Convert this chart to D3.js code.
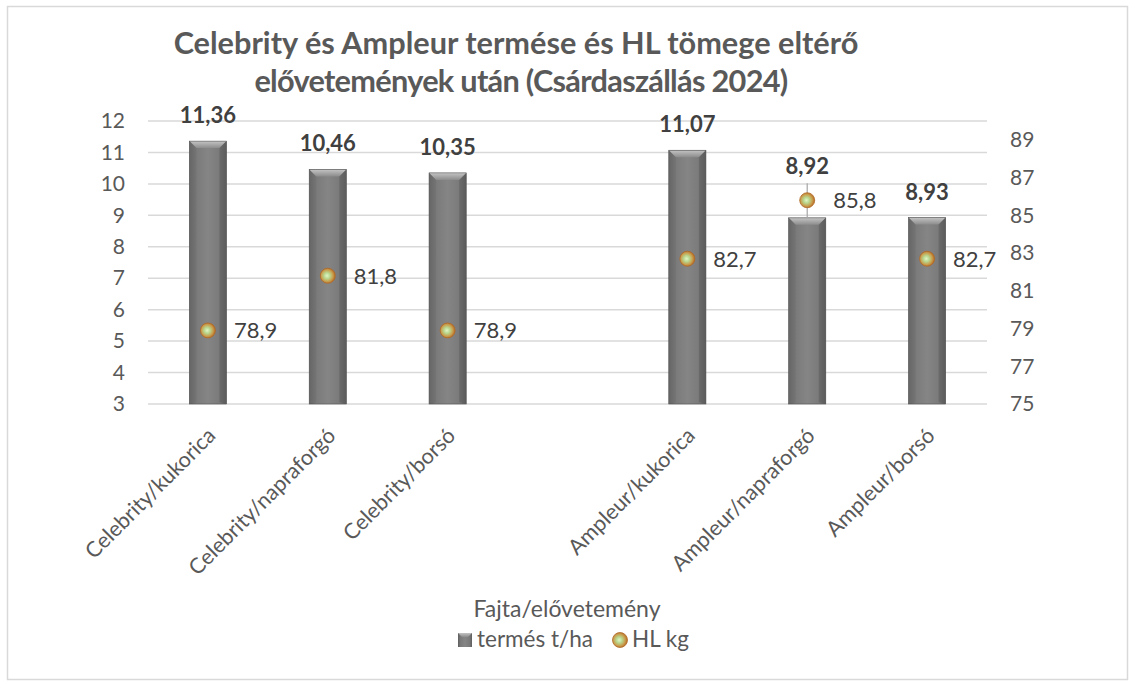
<!DOCTYPE html>
<html><head><meta charset="utf-8">
<script src="https://cdn.jsdelivr.net/npm/d3@7/dist/d3.min.js"></script>
<style>body{margin:0;background:#fff}svg{display:block;font-family:Lato,"Open Sans",sans-serif}</style>
</head><body><svg id="c" width="1137" height="692"></svg>
<script>
const categories = ["Celebrity/kukorica","Celebrity/napraforgó","Celebrity/borsó","","Ampleur/kukorica","Ampleur/napraforgó","Ampleur/borsó"];
const yieldValues = [11.36, 10.46, 10.35, null, 11.07, 8.92, 8.93];
const hlValues = [78.9, 81.8, 78.9, null, 82.7, 85.8, 82.7];
const leftTicks = [3,4,5,6,7,8,9,10,11,12];
const rightTicks = [75,77,79,81,83,85,87,89];
const titleLines = ["Celebrity és Ampleur termése és HL tömege eltérő","elővetemények után (Csárdaszállás 2024)"];
const xTitle = "Fajta/elővetemény";
const seriesNames = ["termés t/ha","HL kg"];
const fmt = v => v.toFixed(2).replace(".", ",");
const fmt1 = v => v.toFixed(1).replace(".", ",");

const svg = d3.select("#c");
const defs = svg.append("defs");
const m={left:148,right:987,top:121,bottom:404};

const gH = defs.append("linearGradient").attr("id","barH").attr("x1","0").attr("x2","1").attr("y1","0").attr("y2","0");
[[0,"#5e5e5e"],[0.18,"#7a7a7a"],[0.5,"#858585"],[0.82,"#7a7a7a"],[1,"#5e5e5e"]].forEach(([o,c])=>gH.append("stop").attr("offset",o).attr("stop-color",c));
const gT = defs.append("linearGradient").attr("id","barT").attr("x1","0").attr("x2","0").attr("y1","0").attr("y2","1");
[[0,"#c4c4c4"],[1,"#8c8c8c"]].forEach(([o,c])=>gT.append("stop").attr("offset",o).attr("stop-color",c));
const gM = defs.append("radialGradient").attr("id","mk").attr("cx","0.45").attr("cy","0.5").attr("r","0.55");
[[0,"#e4f4c4"],[0.35,"#b8d890"],[0.7,"#c8a050"],[1,"#b86a20"]].forEach(([o,c])=>gM.append("stop").attr("offset",o).attr("stop-color",c));

svg.append("rect").attr("x",7.5).attr("y",6.5).attr("width",1120).attr("height",673).attr("fill","#fff").attr("stroke","#d9d9d9").attr("stroke-width",1.5);

const x = d3.scaleBand().domain(categories.map((c,i)=>i)).range([m.left,m.right]).paddingInner(0.69).paddingOuter(0.345);
const y = d3.scaleLinear().domain([3,12]).range([m.bottom,m.top]);
const y2 = d3.scaleLinear().domain([75,90]).range([m.bottom,m.top]);

svg.append("g").selectAll("line").data(leftTicks).join("line")
  .attr("x1",m.left).attr("x2",m.right).attr("y1",d=>y(d)).attr("y2",d=>y(d))
  .attr("stroke","#d9d9d9").attr("stroke-width",1.5);

const la = svg.append("g").attr("transform",`translate(${m.left},0)`)
  .call(d3.axisLeft(y).tickValues(leftTicks).tickSize(0).tickPadding(23).tickFormat(d=>d));
la.select(".domain").remove();
la.selectAll("text").attr("font-size",21).attr("fill","#595959").attr("font-family","Lato");
const ra = svg.append("g").attr("transform",`translate(${m.right},0)`)
  .call(d3.axisRight(y2).tickValues(rightTicks).tickSize(0).tickPadding(23).tickFormat(d=>d));
ra.select(".domain").remove();
ra.selectAll("text").attr("font-size",21).attr("fill","#595959").attr("font-family","Lato");

svg.append("g").selectAll("text").data(categories.map((c,i)=>({c,i})).filter(d=>d.c)).join("text")
  .attr("transform",d=>`translate(${x(d.i)+x.bandwidth()/2+9},${m.bottom+33}) rotate(-45)`)
  .attr("text-anchor","end").attr("font-size",21.5).attr("fill","#595959").text(d=>d.c);

const bw = x.bandwidth();
const data = categories.map((c,i)=>({i,v:yieldValues[i],h:hlValues[i]})).filter(d=>d.v!=null);
const bars = svg.append("g");
data.forEach(d=>{
  const x0=x(d.i), top=y(d.v), bot=y(3);
  const g=bars.append("g");
  g.append("rect").attr("x",x0).attr("y",top).attr("width",bw).attr("height",bot-top).attr("fill","url(#barH)");
  const b=7;
  g.append("path").attr("d",`M${x0},${top}L${x0+bw},${top}L${x0+bw-b},${top+b}L${x0+b},${top+b}Z`).attr("fill","url(#barT)");
  g.append("path").attr("d",`M${x0},${top}L${x0+b},${top+b}L${x0+b},${bot-2}L${x0},${bot}Z`).attr("fill","#6e6e6e").attr("opacity",0.5);
  g.append("path").attr("d",`M${x0+bw},${top}L${x0+bw-b},${top+b}L${x0+bw-b},${bot-2}L${x0+bw},${bot}Z`).attr("fill","#5a5a5a").attr("opacity",0.5);
  g.append("rect").attr("x",x0).attr("y",top).attr("width",bw).attr("height",bot-top).attr("fill","none").attr("stroke","#555").attr("stroke-width",0.6);
});

data.forEach(d=>{
  const cx=x(d.i)+bw/2, top=y(d.v), my=y2(d.h);
  let base=top-18;
  if (Math.abs((base-7)-my)<20){
    base = my-26;
    svg.append("line").attr("x1",cx).attr("x2",cx).attr("y1",base+9).attr("y2",top).attr("stroke","#a6a6a6").attr("stroke-width",1.2);
  }
  svg.append("text").attr("x",cx).attr("y",base).attr("text-anchor","middle").attr("font-size",22).attr("font-weight","bold").attr("fill","#404040").text(fmt(d.v));
});

data.forEach(d=>{
  const cx=x(d.i)+bw/2, my=y2(d.h);
  svg.append("circle").attr("cx",cx).attr("cy",my).attr("r",7.5).attr("fill","url(#mk)").attr("stroke","#b06a28").attr("stroke-width",0.8);
  svg.append("text").attr("x",cx+26).attr("y",my).attr("dy","0.36em").attr("font-size",22).attr("fill","#404040").text(fmt1(d.h));
});

const t1=svg.append("text").attr("x",516).attr("y",54).attr("text-anchor","middle").attr("font-weight","bold").attr("fill","#595959").attr("font-size",26).text(titleLines[0]);
const fs=26*685/t1.node().getComputedTextLength();
t1.attr("font-size",fs);
svg.append("text").attr("x",521).attr("y",92).attr("text-anchor","middle").attr("font-weight","bold").attr("fill","#595959").attr("font-size",fs).attr("letter-spacing",-0.7).text(titleLines[1]);

svg.append("text").attr("x",567).attr("y",617).attr("text-anchor","middle").attr("font-size",23).attr("fill","#595959").text(xTitle);

const lg=svg.append("g");
lg.append("rect").attr("x",458).attr("y",633).attr("width",14).attr("height",14).attr("fill","url(#barH)");
lg.append("path").attr("d","M458,633L472,633L468,637L462,637Z").attr("fill","url(#barT)");
lg.append("text").attr("x",477).attr("y",647).attr("font-size",22.5).attr("fill","#595959").text(seriesNames[0]);
lg.append("circle").attr("cx",620).attr("cy",640).attr("r",7.5).attr("fill","url(#mk)").attr("stroke","#b06a28").attr("stroke-width",0.8);
lg.append("text").attr("x",632).attr("y",647).attr("font-size",22.5).attr("fill","#595959").text(seriesNames[1]);
</script></body></html>
